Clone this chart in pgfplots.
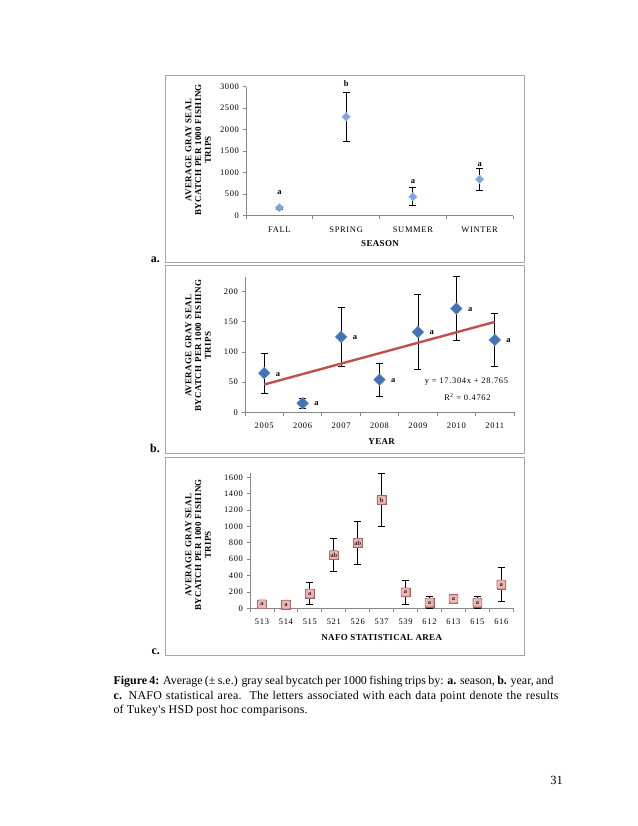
\documentclass[border=0pt]{standalone}
\usepackage{fontspec}
\setmainfont{Liberation Serif}
\newfontfamily\tickfont[LetterSpace=8]{Liberation Serif}
\newfontfamily\labfont[LetterSpace=4]{Liberation Serif}
\newfontfamily\capfont[LetterSpace=2.2]{Liberation Serif}
\usepackage{pgfplots}
\pgfplotsset{compat=1.18}
\definecolor{axgray}{RGB}{134,134,134}
\definecolor{boxgray}{RGB}{165,165,165}
\definecolor{lblue}{RGB}{125,165,220}
\definecolor{lbluedraw}{RGB}{160,190,230}
\definecolor{dblue}{RGB}{68,114,182}
\definecolor{dbluedraw}{RGB}{95,140,200}
\definecolor{trend}{RGB}{192,80,77}
\definecolor{pinkfill}{RGB}{230,185,184}
\definecolor{pinkdraw}{RGB}{175,95,92}
\definecolor{pinktext}{RGB}{70,25,25}
\pgfplotsset{
  excel/.style={
    scale only axis, anchor=south west, clip=false,
    axis lines=left, axis line style={axgray, line width=0.8pt, -},
    tick align=outside, tick style={axgray, line width=0.8pt},
    major tick length=3.5bp, minor tick length=3.5bp,
    major x tick style={draw=none},
    tick label style={font=\tickfont\fontsize{8.5}{10}\selectfont, text=black},
    xticklabel style={yshift=-4bp},
    /pgf/number format/assume math mode=true,
    /pgf/number format/1000 sep={},
  },
  ebar/.style={error bars/.cd, y dir=both, y explicit,
    error bar style={black, line width=0.8pt},
    error mark options={black, rotate=90, line width=0.8pt, mark size=3.5bp}},
}
\tikzset{
  ylab/.style={rotate=90, align=center, font=\labfont\bfseries\fontsize{9}{9.8}\selectfont},
  xlab/.style={font=\labfont\bfseries\fontsize{9}{10}\selectfont},
  dlab/.style={font=\bfseries\fontsize{8.5}{10}\selectfont},
}
\begin{document}
\begin{tikzpicture}
\fill[white] (0,0) rectangle (638bp,826bp);
\useasboundingbox (0,0) rectangle (638bp,826bp);
% boxes
\draw[boxgray, line width=0.9pt] (165.3bp,751bp) rectangle (524.5bp,563.3bp);
\draw[boxgray, line width=0.9pt] (165.3bp,560.7bp) rectangle (524.5bp,373bp);
\draw[boxgray, line width=0.9pt] (165.3bp,369bp) rectangle (524.5bp,171bp);
\node[anchor=base east, font=\bfseries\fontsize{12}{14}\selectfont, inner sep=0pt] at (160bp,563.3bp) {a.};
\node[anchor=base east, font=\bfseries\fontsize{12}{14}\selectfont, inner sep=0pt] at (160bp,373.3bp) {b.};
\node[anchor=base east, font=\bfseries\fontsize{12}{14}\selectfont, inner sep=0pt] at (160bp,171bp) {c.};

% ---------- panel a ----------
\begin{axis}[excel, at={(246bp,610.3bp)}, width=267bp, height=129bp,
  xmin=0.5, xmax=4.5, ymin=0, ymax=3000, ytick={0,500,...,3000},
  xtick={1,2,3,4}, xticklabels={FALL,SPRING,SUMMER,WINTER},
  minor xtick={0.5,1.5,2.5,3.5,4.5}]
\addplot[only marks, mark=square*, mark size=3bp,
  mark options={rotate=45, fill=lblue, draw=lbluedraw, line width=0.5pt}, ebar]
  coordinates {(1,185) +- (0,30) (2,2300) +- (0,570) (3,440) +- (0,210) (4,845) +- (0,260)};
\node[dlab] at (axis cs:1,528) {a};
\node[dlab] at (axis cs:2,3063) {b};
\node[dlab] at (axis cs:3,791) {a};
\node[dlab] at (axis cs:4,1195) {a};
\end{axis}
\node[ylab] at (198.3bp,676bp) {AVERAGE GRAY SEAL\\BYCATCH PER 1000 FISHING\\TRIPS};
\node[xlab] at (380bp,582bp) {SEASON};

% ---------- panel b ----------
\begin{axis}[excel, at={(245bp,413.7bp)}, width=269bp, height=135.7bp,
  xmin=0.5, xmax=7.5, ymin=0, ymax=225, ytick={0,50,...,200},
  xtick={1,...,7}, xticklabels={2005,2006,2007,2008,2009,2010,2011},
  minor xtick={0.5,1.5,...,7.5}]
\addplot[only marks, mark=square*, mark size=4.1bp,
  mark options={rotate=45, fill=dblue, draw=dbluedraw, line width=0.5pt}, ebar]
  coordinates {(1,65) +- (0,33) (2,15) +- (0,8) (3,125) +- (0,49) (4,54) +- (0,27)
               (5,133) +- (0,62) (6,172) +- (0,53) (7,120) +- (0,44)};
\addplot[trend, line width=2.4bp] coordinates {(1,46.07) (7,149.89)};
\node[dlab] at (axis cs:1.36,63) {a};
\node[dlab] at (axis cs:2.36,14) {a};
\node[dlab] at (axis cs:3.36,124) {a};
\node[dlab] at (axis cs:4.36,53) {a};
\node[dlab] at (axis cs:5.36,132) {a};
\node[dlab] at (axis cs:6.36,171) {a};
\node[dlab] at (axis cs:7.36,119) {a};
\end{axis}
\node[ylab] at (198.3bp,480.2bp) {AVERAGE GRAY SEAL\\BYCATCH PER 1000 FISHING\\TRIPS};
\node[xlab] at (381.7bp,384.3bp) {YEAR};
\node[font=\tickfont\fontsize{8.5}{10}\selectfont] at (466.5bp,444.3bp) {y = 17.304x + 28.765};
\node[font=\tickfont\fontsize{8.5}{10}\selectfont] at (467.5bp,429.3bp) {R\textsuperscript{2} = 0.4762};

% ---------- panel c ----------
\begin{axis}[excel, at={(250bp,217.7bp)}, width=263.3bp, height=135bp,
  xmin=0.5, xmax=11.5, ymin=0, ymax=1650, ytick={0,200,...,1600},
  xtick={1,...,11}, xticklabels={513,514,515,521,526,537,539,612,613,615,616},
  minor xtick={0.5,1.5,...,11.5}]
\addplot[only marks, mark=square*, mark size=4.3bp,
  mark options={fill=pinkfill, draw=pinkdraw, line width=0.6pt},
  point meta=explicit symbolic, nodes near coords,
  every node near coord/.append style={anchor=center, font=\bfseries\fontsize{6.5}{7}\selectfont,
     text=pinktext, fill=pinkfill, draw=pinkdraw, line width=0.6pt, rounded corners=1pt,
     inner sep=1pt, minimum width=8.8bp, minimum height=8.8bp},
  ebar] table[x=x, y=y, y error=e, meta=l] {
x y e l
1 50 0 a
2 45 0 a
3 180 135 a
4 650 200 ab
5 800 262 ab
6 1325 328 b
7 195 148 a
8 70 72 a
9 115 55 a
10 70 72 a
11 290 210 a
};
\end{axis}
\node[ylab] at (198.3bp,281bp) {AVERAGE GRAY SEAL\\BYCATCH PER 1000 FISHING\\TRIPS};
\node[xlab] at (381.7bp,188.7bp) {NAFO STATISTICAL AREA};

% ---------- caption ----------
\begin{scope}[every node/.style={anchor=base west, inner sep=0pt, font=\fontsize{12}{14}\selectfont}]
\node at (113.3bp,141bp) {\makebox[440bp][s]{\textbf{Figure 4:} Average (± s.e.) gray seal bycatch per 1000 fishing trips by: \textbf{a.} season, \textbf{b.} year, and}};
\node at (113.3bp,126bp) {\capfont\makebox[445bp][s]{\textbf{c.} NAFO statistical area.\ \ The letters associated with each data point denote the results}};
\node at (113.3bp,112bp) {\capfont of Tukey's HSD post hoc comparisons.};
\end{scope}
\node[anchor=base east, inner sep=0pt, font=\fontsize{12.5}{14}\selectfont] at (563bp,41bp) {31};
\end{tikzpicture}
\end{document}
